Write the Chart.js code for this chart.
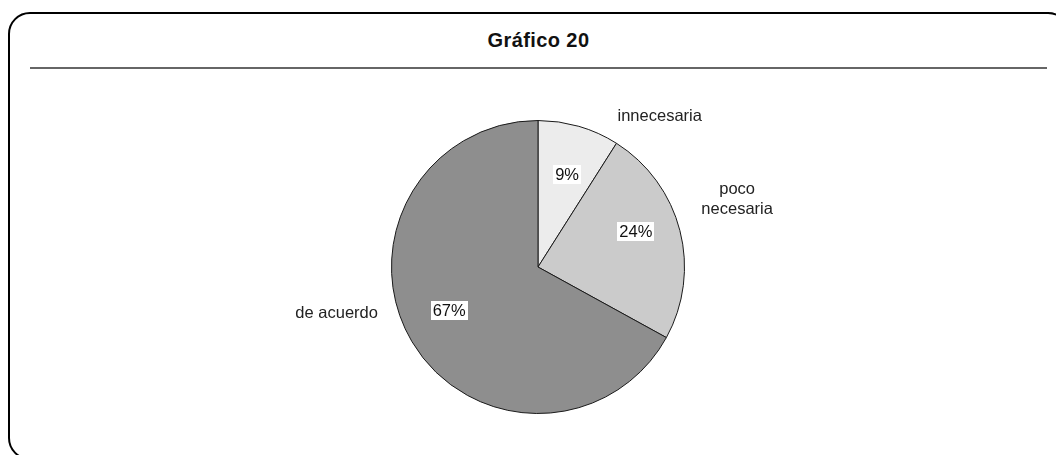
<!DOCTYPE html>
<html>
<head>
<meta charset="utf-8">
<script src="https://cdn.jsdelivr.net/npm/chart.js@4/dist/chart.umd.min.js"></script>
<style>
  html, body { margin: 0; padding: 0; background: #fff; overflow: hidden; }
  body { width: 1056px; height: 455px; position: relative; font-family: "Liberation Sans", Arial, sans-serif; }
  .frame {
    position: absolute; left: 8px; top: 12px; width: 1062px; height: 448px;
    border: 2px solid #000; border-radius: 22px; box-sizing: border-box;
  }
  .title {
    position: absolute; left: 0; top: 29px; width: 1077px; text-align: center;
    font-weight: bold; font-size: 20px; letter-spacing: 0.4px; color: #111;
  }
  .rule { position: absolute; left: 30px; top: 67px; width: 1017px; height: 2px; background: #666; }
  #wrap { position: absolute; left: 0; top: 0; width: 1056px; height: 455px; }
</style>
</head>
<body>
<div class="frame"></div>
<div class="title">Gráfico 20</div>
<div class="rule"></div>
<div id="wrap"><canvas id="pieChart"></canvas></div>
<script>
// Gráfico 20 - opinión (porcentaje de respuestas)
const categories = ['innecesaria', 'poco necesaria', 'de acuerdo'];
const values = [9, 24, 67];
const sliceColors = ['#ececec', '#cbcbcb', '#8e8e8e'];

// where each text sits: angle in degrees clockwise from top, distance as a fraction of the radius
const nameSpots = [
  { angle: 39, dist: 1.32, lines: ['innecesaria'] },
  { angle: 71.3, dist: 1.435, lines: ['poco', 'necesaria'] },
  { angle: 257.1, dist: 1.41, lines: ['de acuerdo'] }
];
const pctSpots = [
  { angle: 17.4, dist: 0.664 },
  { angle: 70.2, dist: 0.71 },
  { angle: 244.1, dist: 0.674 }
];

const sliceLabels = {
  id: 'sliceLabels',
  afterDraw(chart) {
    const arcs = chart.getDatasetMeta(0).data;
    if (!arcs.length) return;
    const { x: cx, y: cy, outerRadius: r } = arcs[0];
    const c = chart.ctx;
    const at = (spot) => {
      const a = spot.angle * Math.PI / 180;
      return [cx + Math.sin(a) * r * spot.dist, cy - Math.cos(a) * r * spot.dist];
    };
    c.save();
    c.font = '16.5px "Liberation Sans", Arial, sans-serif';
    c.textAlign = 'center';
    c.textBaseline = 'middle';

    // category names outside the pie
    nameSpots.forEach(spot => {
      const [x, y] = at(spot);
      const lh = 20;
      const y0 = y - (spot.lines.length - 1) * lh / 2;
      c.fillStyle = '#222';
      spot.lines.forEach((t, i) => c.fillText(t, x, y0 + i * lh));
    });

    // percentages on white boxes
    values.forEach((v, i) => {
      const [x, y] = at(pctSpots[i]);
      const txt = v + '%';
      const w = c.measureText(txt).width + 4;
      const h = 19;
      c.fillStyle = '#fff';
      c.fillRect(Math.round(x - w / 2), Math.round(y - h / 2), Math.round(w), h);
      c.fillStyle = '#111';
      c.fillText(txt, x, y + 1);
    });
    c.restore();
  }
};

new Chart(document.getElementById('pieChart'), {
  type: 'pie',
  data: {
    labels: categories,
    datasets: [{
      data: values,
      backgroundColor: sliceColors,
      borderColor: '#1a1a1a',
      borderWidth: 1
    }]
  },
  options: {
    responsive: true,
    maintainAspectRatio: false,
    animation: false,
    layout: {
      padding: { top: 120, bottom: 41, left: 391, right: 371 }
    },
    plugins: {
      legend: { display: false },
      tooltip: { enabled: false }
    }
  },
  plugins: [sliceLabels]
});
</script>
</body>
</html>
